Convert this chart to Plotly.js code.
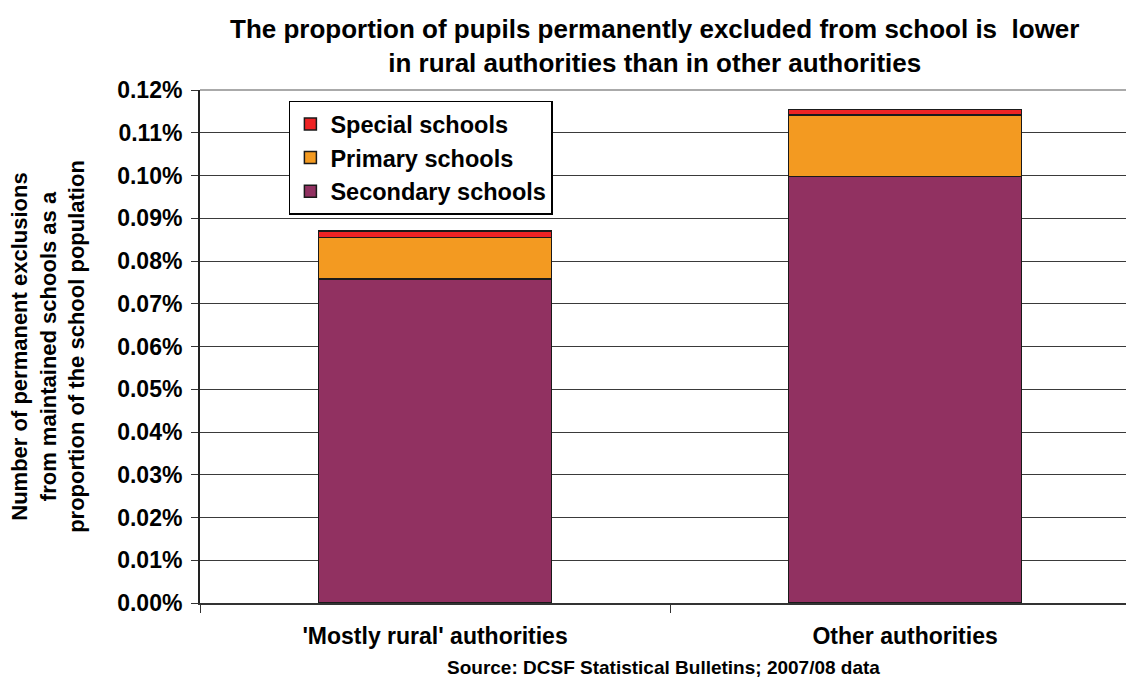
<!DOCTYPE html>
<html>
<head>
<meta charset="utf-8">
<script src="https://cdn.plot.ly/plotly-3.0.1.min.js"></script>
<style>html,body{margin:0;padding:0;background:#fff;}#chart{width:1126px;height:678px;}</style>
</head>
<body>
<div id="chart"></div>
<script>
const categories = ["'Mostly rural' authorities", "Other authorities"];
const secondary = [0.0758, 0.0998];
const primary = [0.0097, 0.0144];
const special = [0.0015, 0.0012];
const yTicks = [0, 0.01, 0.02, 0.03, 0.04, 0.05, 0.06, 0.07, 0.08, 0.09, 0.10, 0.11, 0.12];
const yTickText = yTicks.map(v => v.toFixed(2) + '%');

const F = "Liberation Sans, Arial, sans-serif";
const lineStyle = {color: '#1a1a1a', width: 1.5};

const traces = [
  {type: 'bar', name: 'Secondary schools', x: categories, y: secondary,
   marker: {color: '#913161', line: lineStyle}, width: 0.496},
  {type: 'bar', name: 'Primary schools', x: categories, y: primary,
   marker: {color: '#F39A21', line: lineStyle}, width: 0.496},
  {type: 'bar', name: 'Special schools', x: categories, y: special,
   marker: {color: '#EE2324', line: lineStyle}, width: 0.496}
];

const layout = {
  width: 1126, height: 678,
  margin: {l: 200, r: 0, t: 90, b: 75},
  barmode: 'stack',
  paper_bgcolor: '#fff', plot_bgcolor: '#fff',
  font: {family: F, color: '#000'},
  xaxis: {
    type: 'category',
    range: [-0.5, 1.47],
    showgrid: false,
    showline: true, linecolor: '#333', linewidth: 2,
    ticks: 'outside', ticklen: 8, tickcolor: '#333', tickwidth: 1,
    tickson: 'boundaries',
    tickfont: {family: F, size: 23, weight: 'bold', color: '#000'},
    ticklabelstandoff: 11,
    fixedrange: true
  },
  yaxis: {
    range: [0, 0.12],
    tickmode: 'array',
    tickvals: yTicks,
    ticktext: yTickText,
    showgrid: true, gridcolor: '#3a3a3a', gridwidth: 1,
    zeroline: false,
    showline: true, linecolor: '#222', linewidth: 2,
    ticks: 'outside', ticklen: 7, tickcolor: '#333',
    tickfont: {family: F, size: 23, weight: 'bold', color: '#000'},
    ticklabelstandoff: 4,
    title: {
      text: 'Number of permanent exclusions<br>from maintained schools as a<br>proportion of the school population',
      font: {family: F, size: 22, weight: 'bold', color: '#000'},
      standoff: 26
    },
    fixedrange: true
  },
  legend: {
    x: 0.096, y: 0.979, xanchor: 'left', yanchor: 'top',
    traceorder: 'reversed',
    bgcolor: '#fff', bordercolor: '#000', borderwidth: 1.5,
    font: {family: F, size: 23.5, weight: 'bold', color: '#000'},
    itemwidth: 30
  },
  shapes: [
    {type: 'line', xref: 'paper', yref: 'paper', x0: 0, x1: 1, y0: 1, y1: 1,
     line: {color: '#aaaaaa', width: 2}, layer: 'above'}
  ],
  annotations: [
    {text: 'The proportion of pupils permanently excluded from school is  lower<br>in rural authorities than in other authorities',
     xref: 'paper', yref: 'paper', x: 0.491, y: 1.086, xanchor: 'center', yanchor: 'middle',
     showarrow: false, font: {family: F, size: 26, weight: 'bold', color: '#000'}},
    {text: 'Source: DCSF Statistical Bulletins; 2007/08 data',
     xref: 'paper', yref: 'paper', x: 0.5, y: -0.126, xanchor: 'center', yanchor: 'middle',
     showarrow: false, font: {family: F, size: 19, weight: 'bold', color: '#000'}}
  ]
};

Plotly.newPlot('chart', traces, layout, {displayModeBar: false, staticPlot: true});
</script>
</body>
</html>
